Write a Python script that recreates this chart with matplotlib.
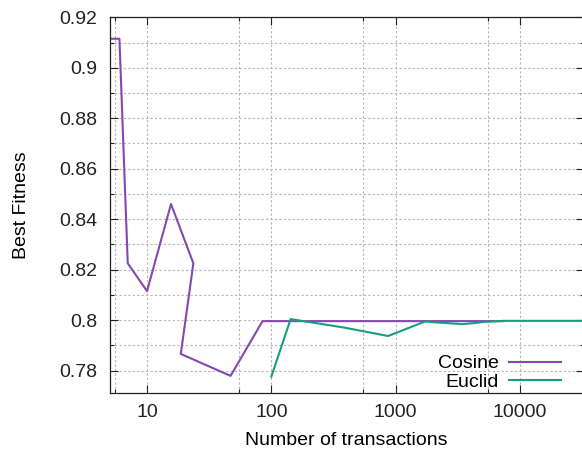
import matplotlib
matplotlib.use("Agg")
import matplotlib.pyplot as plt
import matplotlib.ticker as mticker

# ── Data ─────────────────────────────────────────────────────
cosine_x = [5, 6, 7, 10, 15.6, 23.6, 18.7, 47, 85, 7400]
cosine_y = [0.9115, 0.9115, 0.8225, 0.8115, 0.846, 0.8225, 0.7866, 0.7779, 0.7996, 0.7996]

euclid_x = [100, 143, 390, 870, 1735, 2085, 2650, 3420, 4260, 5140, 7410, 33000]
euclid_y = [0.7776, 0.8004, 0.7970, 0.7937, 0.7995, 0.7991, 0.7988, 0.7984,
            0.7988, 0.7993, 0.7997, 0.7997]

x_major = [10, 100, 1000, 10000]
x_minor = [5.5, 55, 550, 5500]
y_major = [0.78, 0.80, 0.82, 0.84, 0.86, 0.88, 0.90, 0.92]
y_minor = [0.77, 0.79, 0.81, 0.83, 0.85, 0.87, 0.89, 0.91]

COLOR_COSINE = "#8448b0"
COLOR_EUCLID = "#16a07a"
GRID_COLOR = "#b4b4b4"
FS = 14

plt.rcParams.update({
    "font.family": ["Liberation Sans", "DejaVu Sans"],
    "font.size": FS,
})

fig = plt.figure(figsize=(5.82, 4.54), dpi=100)
ax = fig.add_axes([0.1883, 0.1337, 0.8158, 0.8282])

ax.plot(cosine_x, cosine_y, color=COLOR_COSINE, linewidth=1.5, label="Cosine")
ax.plot(euclid_x, euclid_y, color=COLOR_EUCLID, linewidth=1.5, label="Euclid")

ax.set_xscale("log")
ax.set_xlim(5, 33000)
ax.set_ylim(0.771, 0.92)

ax.xaxis.set_major_locator(mticker.FixedLocator(x_major))
ax.xaxis.set_minor_locator(mticker.FixedLocator(x_minor))
ax.xaxis.set_major_formatter(mticker.FuncFormatter(lambda v, p: f"{v:g}"))
ax.xaxis.set_minor_formatter(mticker.NullFormatter())
ax.yaxis.set_major_locator(mticker.FixedLocator(y_major))
ax.yaxis.set_minor_locator(mticker.FixedLocator(y_minor))
ax.yaxis.set_major_formatter(mticker.FuncFormatter(lambda v, p: f"{v:g}"))

ax.tick_params(which="both", direction="in", top=True, right=True,
               colors="#222222", labelcolor="#222222", labelsize=FS)
ax.tick_params(which="major", length=6, width=0.8)
ax.tick_params(which="minor", length=3, width=0.8)
ax.tick_params(axis="y", which="major", pad=9)
ax.tick_params(axis="x", which="major", pad=8)

ax.grid(which="both", color=GRID_COLOR, linewidth=0.8, linestyle=(0, (2, 2)))
for s in ax.spines.values():
    s.set_color("#222222")
    s.set_linewidth(0.9)

ax.set_xlabel("Number of transactions", fontsize=FS)
ax.set_ylabel("Best Fitness", fontsize=FS)
ax.xaxis.set_label_coords(0.498, -0.103)
ax.yaxis.set_label_coords(-0.168, 0.5)

ax.legend(loc="lower right", bbox_to_anchor=(561 / 582, 1 - 391 / 454),
          bbox_transform=fig.transFigure, frameon=False, markerfirst=False,
          handlelength=2.7, handletextpad=0.5, labelspacing=0.05,
          borderpad=0, borderaxespad=0, fontsize=FS)

fig.savefig("out.png", dpi=100, facecolor="white")
